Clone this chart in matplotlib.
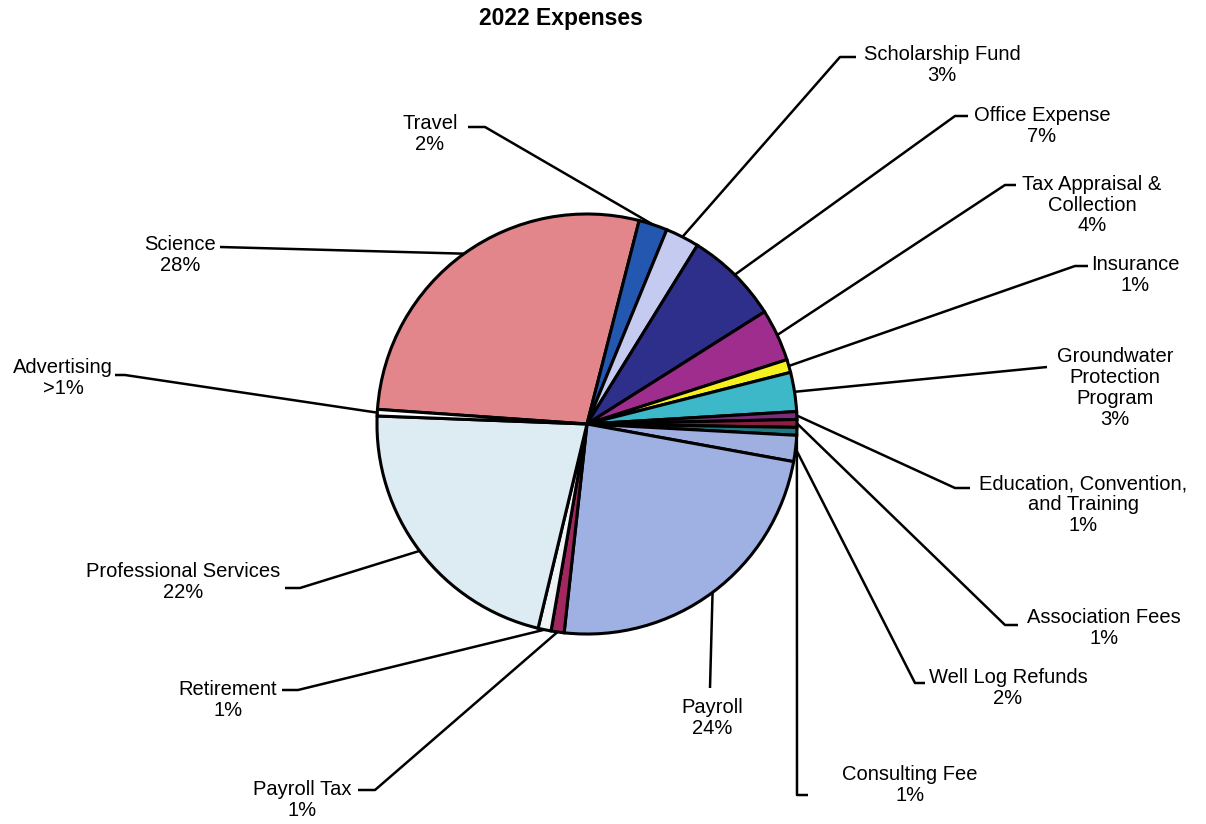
import numpy as np
import matplotlib.pyplot as plt

W, H = 1206, 824
plt.rcParams['font.family'] = ['Liberation Sans', 'DejaVu Sans']

# slices, clockwise starting from the left side of the pie
labels = ['Science', 'Travel', 'Scholarship Fund', 'Office Expense',
          'Tax Appraisal &\nCollection', 'Insurance',
          'Groundwater\nProtection\nProgram', 'Education, Convention,\nand Training',
          'Association Fees', 'Consulting Fee', 'Well Log Refunds', 'Payroll',
          'Payroll Tax', 'Retirement', 'Professional Services', 'Advertising']
pct_text = ['28%', '2%', '3%', '7%', '4%', '1%', '3%', '1%', '1%', '1%', '2%',
            '24%', '1%', '1%', '22%', '>1%']
shares = [27.8, 2.2, 2.6, 7.2, 4.0, 1.0, 3.0, 0.6, 0.6, 0.6, 2.0, 23.8,
          1.0, 1.0, 21.8, 0.5]
colors = ['#E3868C', '#2457B0', '#C5CAF0', '#2E2F8A', '#9E2D8E', '#F5F01E',
          '#3CB8C8', '#7A2D7A', '#8B2040', '#1E7A80', '#9FB0E0', '#9FB1E3',
          '#A0285F', '#EEF3F6', '#DDEBF2', '#FFFFFF']
explode = [0.015, 0, 0, 0, 0, 0, 0, 0, 0, 0, 0, 0.035, 0.02, 0.02, 0.015, 0]

# label layout: text centre, elbow of leader line, end of short tick (pixels)
layout = [
    ((180, 255), (220, 247), (220, 247)),
    ((430, 134), (485, 127), (468, 127)),
    ((942, 65), (840, 57), (856, 57)),
    ((1042, 126), (955, 116), (968, 116)),
    ((1092, 205), (1005, 185), (1016, 185)),
    ((1135, 275), (1075, 266), (1088, 266)),
    ((1115, 388), (1047, 367), (1047, 367)),
    ((1083, 505), (955, 488), (970, 488)),
    ((1104, 628), (1005, 625), (1018, 625)),
    ((910, 785), (797, 795), (808, 795)),
    ((1008, 688), (915, 683), (925, 683)),
    ((712, 718), (710, 688), (710, 688)),
    ((302, 800), (375, 790), (358, 790)),
    ((228, 700), (298, 690), (282, 690)),
    ((183, 582), (300, 588), (285, 588)),
    ((63, 378), (125, 375), (115, 375)),
]

cx, cy, R = 587, 424, 210

fig = plt.figure(figsize=(W / 100, H / 100), dpi=100)
ax = fig.add_axes([0, 0, 1, 1])

wedges, _ = ax.pie(shares, colors=colors, explode=explode, startangle=176,
                   counterclock=False, radius=R, center=(cx, H - cy),
                   wedgeprops=dict(edgecolor='black', linewidth=2.2))

for w, lab, pct, (tpos, elbow, tick) in zip(wedges, labels, pct_text, layout):
    mid = np.deg2rad((w.theta1 + w.theta2) / 2)
    wx, wy = w.center
    sx = wx + w.r * np.cos(mid)
    sy = wy + w.r * np.sin(mid)
    xs = [sx, elbow[0], tick[0]]
    ys = [sy, H - elbow[1], H - tick[1]]
    ax.plot(xs, ys, color='black', lw=1.8, solid_capstyle='butt', zorder=0)
    ax.text(tpos[0], H - tpos[1], lab + '\n' + pct, ha='center', va='center',
            multialignment='center', fontsize=14.5, linespacing=1.12)

ax.text(561, H - 18, '2022 Expenses', ha='center', va='center',
        fontsize=16.5, fontweight='bold')

ax.set_xlim(0, W)
ax.set_ylim(0, H)
ax.set_aspect('equal')
ax.axis('off')

fig.savefig('out.png', dpi=100)
